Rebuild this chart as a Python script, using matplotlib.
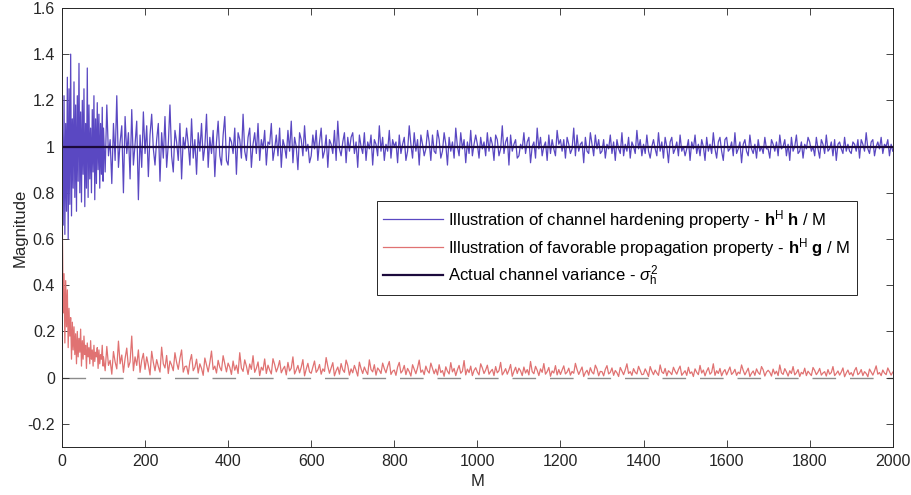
import numpy as np
import matplotlib.pyplot as plt
from matplotlib.ticker import FuncFormatter

plt.rcParams['font.family'] = ['Liberation Sans', 'DejaVu Sans']
plt.rcParams['mathtext.fontset'] = 'custom'
plt.rcParams['mathtext.rm'] = 'Liberation Sans'
plt.rcParams['mathtext.bf'] = 'Liberation Sans:bold'
plt.rcParams['mathtext.it'] = 'Liberation Sans:italic'

# antenna counts: every 2 at the start, then every 4
m_values = list(range(1, 100, 2)) + list(range(100, 2001, 4))

# h^H h / M  (channel hardening)
hardening = [
    1.07, 0.66, 1.22, 0.62, 1.10, 0.72, 1.30, 0.60, 1.25, 0.75, 1.40, 0.70, 1.12, 0.82, 1.28, 0.78, 1.18, 0.72, 1.22, 0.85,
    1.36, 0.80, 1.15, 0.76, 1.20, 0.88, 1.25, 0.74, 1.10, 0.82, 1.34, 0.78, 1.18, 0.86, 1.08, 0.80, 1.16, 0.89, 1.22, 0.77,
    1.12, 0.84, 1.19, 0.90, 1.14, 0.82, 1.10, 0.88, 1.17, 0.85,
    1.08, 0.89, 1.18, 0.96, 1.03, 0.84, 1.10, 0.94, 1.22, 0.91, 1.02, 1.09, 0.80, 1.13, 0.97, 1.06, 0.86, 1.16, 0.92, 1.01, 1.11, 0.77, 1.05, 0.91, 1.15,
    0.97, 1.09, 0.87, 1.05, 1.14, 0.99, 0.92, 1.03, 1.10, 0.85, 1.06, 0.95, 1.13, 0.91, 1.01, 1.18, 0.96, 0.89, 1.07, 1.02, 0.94, 1.10, 0.86, 1.04, 0.99,
    1.08, 1.01, 0.92, 1.12, 0.95, 1.03, 0.88, 1.06, 0.98, 1.10, 0.94, 1.00, 1.14, 0.91, 1.04, 0.97, 1.07, 0.87, 1.02, 1.11, 0.96, 0.92, 1.05, 1.13, 0.94,
    0.92, 1.04, 1.02, 0.97, 1.08, 0.88, 1.06, 1.03, 0.95, 1.14, 0.98, 0.94, 1.04, 1.08, 0.91, 1.01, 1.06, 0.97, 1.10, 0.94, 1.03, 0.99, 1.07, 0.92, 1.02,
    1.01, 1.10, 0.94, 0.99, 1.05, 0.96, 1.08, 0.91, 1.03, 1.00, 0.95, 1.07, 0.98, 1.11, 0.93, 1.04, 1.00, 0.90, 1.06, 1.03, 0.96, 1.09, 0.98, 1.01, 0.93,
    0.96, 1.05, 0.99, 1.07, 0.94, 1.02, 1.08, 0.95, 0.98, 1.05, 0.91, 1.03, 1.01, 0.97, 1.07, 0.94, 1.11, 0.99, 0.96, 1.02, 1.06, 0.93, 1.04, 0.98, 1.04,
    1.06, 0.97, 1.02, 0.91, 1.05, 1.00, 0.97, 1.06, 0.94, 1.02, 0.99, 1.05, 0.92, 1.03, 1.01, 0.96, 1.09, 0.98, 1.04, 0.94, 1.01, 0.98, 1.07, 0.95, 1.03,
    1.00, 1.02, 0.93, 1.05, 0.97, 1.01, 1.04, 0.94, 0.98, 1.09, 1.01, 0.95, 1.06, 0.98, 1.03, 0.92, 1.05, 1.01, 0.96, 0.99, 1.07, 1.02, 0.94, 1.05, 0.98,
    0.97, 1.07, 1.03, 0.95, 0.98, 1.06, 1.01, 0.92, 1.04, 0.98, 1.02, 0.95, 1.08, 1.00, 0.96, 1.06, 0.99, 1.03, 0.93, 1.02, 0.97, 1.07, 0.96, 1.01, 1.05,
    1.01, 0.95, 1.04, 0.99, 1.02, 0.96, 1.06, 0.98, 1.04, 1.01, 0.94, 1.05, 1.03, 0.96, 0.99, 1.09, 0.97, 1.02, 1.04, 0.92, 1.05, 0.98, 1.01, 1.03, 0.95,
    0.96, 1.01, 0.99, 1.06, 0.97, 1.02, 1.04, 0.93, 1.00, 1.02, 0.95, 1.08, 0.99, 1.04, 0.96, 1.00, 1.02, 0.94, 1.05, 0.97, 1.03, 0.99, 0.96, 1.07, 1.01,
    1.03, 0.98, 1.03, 0.95, 1.04, 1.01, 0.97, 0.99, 1.08, 0.96, 1.05, 0.98, 1.01, 1.02, 0.93, 1.04, 0.98, 0.97, 1.06, 1.01, 0.96, 1.05, 0.99, 1.03, 0.97,
    0.98, 1.03, 0.95, 1.01, 0.99, 1.05, 0.97, 1.02, 0.94, 1.03, 0.99, 0.97, 1.06, 0.96, 1.01, 0.98, 1.04, 0.95, 1.02, 1.00, 0.97, 1.07, 0.99, 1.03, 0.96,
    1.01, 0.97, 1.05, 0.98, 0.95, 1.00, 1.03, 0.99, 0.96, 1.06, 0.98, 1.02, 0.95, 1.04, 1.00, 0.93, 1.02, 1.04, 0.97, 0.99, 1.02, 0.96, 1.05, 0.98, 1.00,
    0.96, 0.99, 1.03, 0.94, 1.02, 0.99, 1.05, 0.97, 1.01, 0.96, 1.03, 1.00, 0.94, 1.04, 0.98, 1.01, 0.97, 1.06, 0.99, 0.95, 1.02, 1.04, 0.98, 0.94, 1.03,
    1.04, 0.98, 0.99, 1.02, 0.96, 1.06, 0.97, 0.99, 1.02, 0.93, 1.01, 1.03, 0.98, 0.96, 1.05, 0.99, 0.97, 1.01, 0.95, 1.03, 0.98, 1.00, 0.97, 1.04, 0.99,
    0.99, 0.95, 1.03, 1.01, 0.98, 1.02, 0.96, 1.05, 0.99, 1.00, 1.03, 0.96, 1.01, 0.94, 1.04, 0.98, 1.00, 1.05, 0.97, 0.98, 1.02, 0.95, 1.01, 0.99, 1.04,
    1.02, 0.98, 1.00, 0.96, 1.04, 0.99, 0.95, 1.03, 1.01, 0.97, 1.05, 0.98, 0.99, 1.02, 0.96, 1.03, 0.94, 1.01, 1.02, 0.99, 0.97, 1.04, 0.98, 1.01, 0.98,
    0.97, 1.02, 1.01, 0.98, 1.03, 0.95, 1.03, 1.01, 0.98, 1.06, 0.99, 0.97, 1.02, 1.03, 0.96, 1.00, 1.02, 0.99, 1.04, 0.97, 1.01, 1.00, 1.03, 0.96, 1.01,
    0.98,
]

# |h^H g| / M  (favorable propagation)
propagation = [
    0.66, 0.28, 0.45, 0.15, 0.42, 0.22, 0.38, 0.13, 0.30, 0.18, 0.26, 0.08, 0.24, 0.12, 0.22, 0.10, 0.19, 0.06, 0.20, 0.09,
    0.17, 0.11, 0.21, 0.05, 0.16, 0.08, 0.18, 0.10, 0.14, 0.04, 0.15, 0.09, 0.13, 0.06, 0.16, 0.08, 0.12, 0.05, 0.14, 0.07,
    0.11, 0.09, 0.13, 0.04, 0.12, 0.06, 0.10, 0.08, 0.14, 0.05,
    0.090, 0.030, 0.135, 0.053, 0.075, 0.015, 0.113, 0.068, 0.038, 0.158, 0.060, 0.098, 0.023, 0.083, 0.128, 0.045, 0.068, 0.180, 0.030, 0.090, 0.053, 0.120, 0.023, 0.075, 0.105,
    0.036, 0.090, 0.054, 0.012, 0.114, 0.066, 0.030, 0.078, 0.048, 0.024, 0.132, 0.060, 0.042, 0.096, 0.018, 0.072, 0.054, 0.030, 0.108, 0.066, 0.036, 0.084, 0.120, 0.024, 0.048,
    0.050, 0.015, 0.070, 0.100, 0.030, 0.045, 0.080, 0.020, 0.060, 0.040, 0.010, 0.085, 0.055, 0.025, 0.065, 0.115, 0.035, 0.050, 0.020, 0.075, 0.045, 0.030, 0.095, 0.060, 0.025,
    0.063, 0.045, 0.014, 0.072, 0.032, 0.054, 0.018, 0.108, 0.041, 0.027, 0.077, 0.050, 0.014, 0.059, 0.036, 0.095, 0.023, 0.041, 0.068, 0.009, 0.045, 0.032, 0.081, 0.018, 0.054,
    0.033, 0.016, 0.082, 0.057, 0.025, 0.045, 0.074, 0.021, 0.037, 0.049, 0.012, 0.066, 0.029, 0.041, 0.090, 0.016, 0.033, 0.053, 0.021, 0.045, 0.078, 0.008, 0.037, 0.062, 0.025,
    0.019, 0.046, 0.072, 0.023, 0.034, 0.057, 0.015, 0.038, 0.027, 0.087, 0.049, 0.019, 0.042, 0.065, 0.008, 0.030, 0.046, 0.015, 0.061, 0.034, 0.023, 0.076, 0.053, 0.011, 0.038,
    0.021, 0.053, 0.032, 0.007, 0.067, 0.039, 0.018, 0.046, 0.028, 0.014, 0.077, 0.035, 0.025, 0.056, 0.011, 0.042, 0.032, 0.018, 0.063, 0.039, 0.021, 0.049, 0.070, 0.014, 0.028,
    0.033, 0.010, 0.046, 0.066, 0.020, 0.030, 0.053, 0.013, 0.040, 0.026, 0.007, 0.056, 0.036, 0.017, 0.043, 0.076, 0.023, 0.033, 0.013, 0.050, 0.030, 0.020, 0.063, 0.040, 0.017,
    0.037, 0.012, 0.056, 0.022, 0.031, 0.006, 0.047, 0.028, 0.016, 0.065, 0.025, 0.040, 0.009, 0.034, 0.053, 0.019, 0.028, 0.074, 0.012, 0.037, 0.022, 0.050, 0.009, 0.031, 0.043,
    0.024, 0.012, 0.060, 0.042, 0.018, 0.033, 0.054, 0.015, 0.027, 0.036, 0.009, 0.048, 0.021, 0.030, 0.066, 0.012, 0.024, 0.039, 0.015, 0.033, 0.057, 0.006, 0.027, 0.045, 0.018,
    0.041, 0.029, 0.009, 0.046, 0.020, 0.035, 0.012, 0.070, 0.026, 0.017, 0.049, 0.032, 0.009, 0.038, 0.023, 0.061, 0.015, 0.026, 0.044, 0.006, 0.029, 0.020, 0.052, 0.012, 0.035,
    0.014, 0.032, 0.051, 0.016, 0.024, 0.041, 0.011, 0.027, 0.019, 0.062, 0.035, 0.014, 0.030, 0.046, 0.005, 0.022, 0.032, 0.011, 0.043, 0.024, 0.016, 0.054, 0.038, 0.008, 0.027,
    0.026, 0.008, 0.036, 0.052, 0.016, 0.023, 0.042, 0.010, 0.031, 0.021, 0.005, 0.044, 0.029, 0.013, 0.034, 0.060, 0.018, 0.026, 0.010, 0.039, 0.023, 0.016, 0.049, 0.031, 0.013,
    0.015, 0.038, 0.023, 0.005, 0.048, 0.028, 0.013, 0.033, 0.020, 0.010, 0.055, 0.025, 0.018, 0.040, 0.008, 0.030, 0.023, 0.013, 0.045, 0.028, 0.015, 0.035, 0.050, 0.010, 0.020,
    0.030, 0.010, 0.045, 0.018, 0.025, 0.005, 0.038, 0.023, 0.013, 0.053, 0.020, 0.033, 0.008, 0.028, 0.043, 0.015, 0.023, 0.060, 0.010, 0.030, 0.018, 0.040, 0.008, 0.025, 0.035,
    0.012, 0.029, 0.046, 0.014, 0.022, 0.036, 0.010, 0.024, 0.017, 0.055, 0.031, 0.012, 0.026, 0.041, 0.005, 0.019, 0.029, 0.010, 0.038, 0.022, 0.014, 0.048, 0.034, 0.007, 0.024,
    0.032, 0.023, 0.007, 0.037, 0.016, 0.028, 0.009, 0.055, 0.021, 0.014, 0.039, 0.025, 0.007, 0.030, 0.018, 0.048, 0.012, 0.021, 0.035, 0.005, 0.023, 0.016, 0.041, 0.009, 0.028,
    0.018, 0.009, 0.044, 0.031, 0.013, 0.024, 0.040, 0.011, 0.020, 0.026, 0.007, 0.035, 0.015, 0.022, 0.048, 0.009, 0.018, 0.029, 0.011, 0.024, 0.042, 0.004, 0.020, 0.033, 0.013,
    0.022, 0.007, 0.031, 0.044, 0.013, 0.020, 0.035, 0.009, 0.026, 0.018, 0.004, 0.037, 0.024, 0.011, 0.029, 0.051, 0.015, 0.022, 0.009, 0.033, 0.020, 0.013, 0.042, 0.026, 0.011,
    0.024,
]

channel_variance = 1.0

fig = plt.figure(figsize=(9.11, 4.95), dpi=100)
ax = fig.add_axes([0.068, 0.097, 0.912, 0.887])

ax.plot(m_values, hardening, color='#5a48c2', lw=0.9,
        label=r'Illustration of channel hardening property - $\mathbf{h}^{\mathrm{H}}$ $\mathbf{h}$ / M')
ax.plot(m_values, propagation, color='#e07272', lw=0.9,
        label=r'Illustration of favorable propagation property - $\mathbf{h}^{\mathrm{H}}$ $\mathbf{g}$ / M')
ax.axhline(channel_variance, color='#1c0a3c', lw=1.6,
           label=r'Actual channel variance - $\sigma_{\mathrm{h}}^{2}$')
ax.axhline(0, color='#8c8c8c', lw=1.0, ls=(0, (17, 10)), zorder=0)

ax.set_xlim(0, 2000)
ax.set_ylim(-0.3, 1.6)
ax.set_xticks(np.arange(0, 2001, 200))
ax.set_yticks(np.arange(-0.2, 1.61, 0.2))
ax.yaxis.set_major_formatter(FuncFormatter(lambda v, p: '%g' % round(v, 2)))
ax.tick_params(direction='in', length=5, width=0.6, top=True, right=True,
               labelsize=11.5, colors='#262626', pad=5)
for s in ax.spines.values():
    s.set_color('#262626')
    s.set_linewidth(0.7)

ax.set_xlabel('M', fontsize=12, color='#262626', labelpad=4)
ax.set_ylabel('Magnitude', fontsize=12, color='#262626', labelpad=0)

leg = ax.legend(loc='upper left', bbox_to_anchor=(0.379, 0.560), borderaxespad=0,
                fontsize=12, handlelength=3.6, handletextpad=0.25, labelspacing=0.3,
                borderpad=0.4, fancybox=False, framealpha=1, edgecolor='#262626')
leg.get_frame().set_linewidth(0.7)

fig.savefig('out.png', dpi=100)
